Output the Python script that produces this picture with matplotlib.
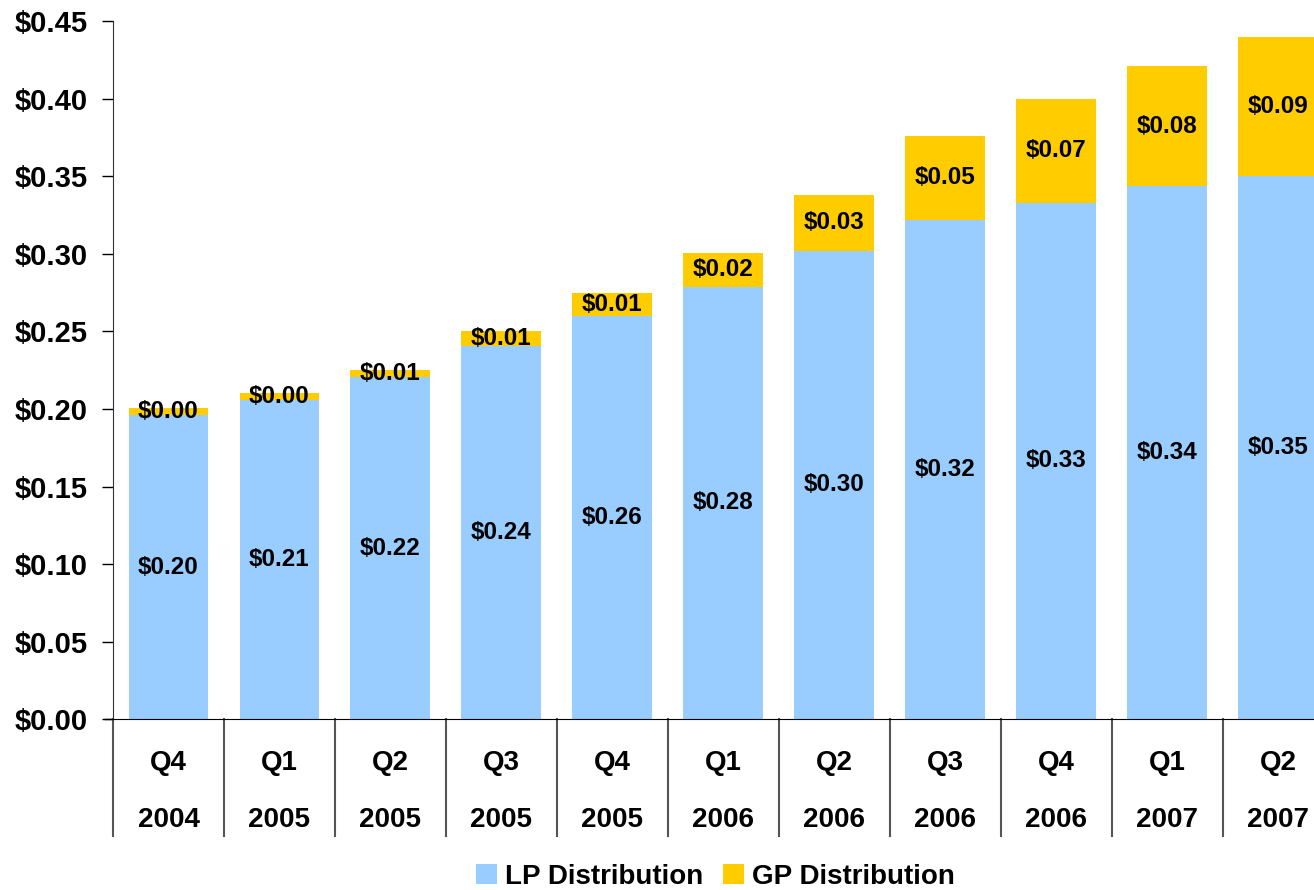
import matplotlib.pyplot as plt
import numpy as np

quarters = ["Q4", "Q1", "Q2", "Q3", "Q4", "Q1", "Q2", "Q3", "Q4", "Q1", "Q2"]
years = ["2004", "2005", "2005", "2005", "2005", "2006", "2006", "2006", "2006", "2007", "2007"]
lp = [0.196, 0.206, 0.2205, 0.2405, 0.260, 0.279, 0.302, 0.322, 0.333, 0.344, 0.350]
gp = [0.0045, 0.004, 0.0045, 0.0095, 0.015, 0.0215, 0.036, 0.054, 0.067, 0.077, 0.090]
lp_labels = ["$0.20", "$0.21", "$0.22", "$0.24", "$0.26", "$0.28", "$0.30", "$0.32", "$0.33", "$0.34", "$0.35"]
gp_labels = ["$0.00", "$0.00", "$0.01", "$0.01", "$0.01", "$0.02", "$0.03", "$0.05", "$0.07", "$0.08", "$0.09"]

LP_COLOR = "#99CCFF"
GP_COLOR = "#FFCC00"

plt.rcParams['font.family'] = ['Liberation Sans', 'DejaVu Sans']
plt.rcParams['font.weight'] = 'bold'

fig = plt.figure(figsize=(13.14, 8.9), dpi=100)
# the chart runs a little past the right edge of the picture
ax = fig.add_axes([0.086, 0.192, 0.929, 0.784])

x = np.arange(len(lp))
lp = np.array(lp)
gp = np.array(gp)
ax.bar(x, lp, width=0.72, color=LP_COLOR, label="LP Distribution")
ax.bar(x, gp, width=0.72, bottom=lp, color=GP_COLOR, label="GP Distribution")

for i in range(len(x)):
    ax.text(x[i], lp[i] / 2, lp_labels[i], ha="center", va="center",
            fontsize=17.5, fontweight="bold")
    ax.text(x[i], lp[i] + gp[i] / 2, gp_labels[i], ha="center", va="center",
            fontsize=17.5, fontweight="bold")

ax.set_xlim(-0.5, len(x) - 0.5)
ax.set_ylim(0, 0.45)
ax.set_yticks(np.arange(0, 0.451, 0.05))
ax.set_yticklabels([f"${v:.2f}" for v in np.arange(0, 0.451, 0.05)],
                   fontsize=21, fontweight="bold")
ax.tick_params(axis="y", length=8, width=1, pad=10)
ax.set_xticks([])
for s in ["top", "right"]:
    ax.spines[s].set_visible(False)
ax.spines["left"].set_color("#333333")
ax.spines["bottom"].set_color("black")

# category labels and separators below the axis
trans = ax.get_xaxis_transform()
for b in np.arange(-0.5, len(x), 1.0):
    ax.plot([b, b], [0, -0.167], transform=trans, color="#555555",
            lw=1.5, clip_on=False)
ax.plot([-0.5 - 0.07, -0.5], [0, 0], transform=trans, color="black", lw=1, clip_on=False)
for i in range(len(x)):
    ax.text(x[i], -0.063, quarters[i], transform=trans, ha="center", va="center",
            fontsize=20, fontweight="bold")
    ax.text(x[i], -0.144, years[i], transform=trans, ha="center", va="center",
            fontsize=20, fontweight="bold")

# legend centred under the visible plot area
ax.legend(loc="center", bbox_to_anchor=(0.4935, -0.226), ncol=2, frameon=False,
          handlelength=0.75, handleheight=0.75, handletextpad=0.3,
          columnspacing=0.7, prop={"weight": "bold", "size": 20})

fig.savefig("out.png", dpi=100)
